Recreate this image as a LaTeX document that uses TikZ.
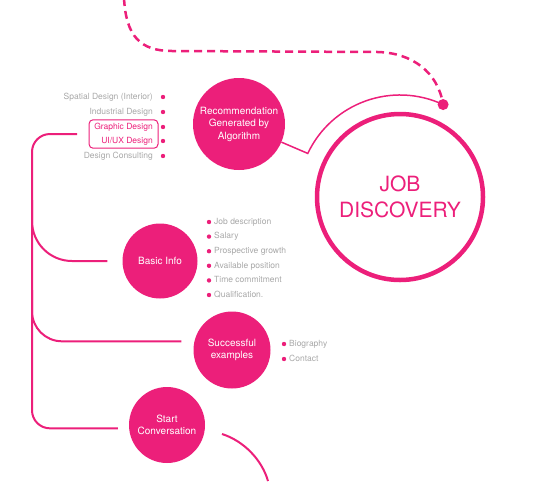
\documentclass[tikz,border=0pt]{standalone}
\usepackage{fontspec}
\setsansfont{TeX Gyre Heros}
\usetikzlibrary{calc,fit}
\begin{document}
\begin{tikzpicture}[x=1pt,y=-1pt,font=\sffamily,
  bubble/.style={circle,fill=discoverypink,text=white,align=center,inner sep=0pt,
    minimum size=#1,font=\sffamily\fontsize{10}{12.5}\selectfont},
  leftitem/.style={anchor=east,inner sep=0pt,text=itemgray,text height=6.2pt,text depth=1.8pt,
    font=\sffamily\fontsize{8.5}{10}\selectfont},
  rightitem/.style={leftitem,anchor=west},
  spine/.style={discoverypink,line width=2pt},
  thinlink/.style={discoverypink,line width=1.5pt}]
\definecolor{discoverypink}{HTML}{EC1F7A}
\definecolor{itemgray}{HTML}{A8A8A8}
\useasboundingbox (0,0) rectangle (540,485);
% hub and bubbles
\node[circle,draw=discoverypink,line width=4.5pt,minimum size=166pt,text=discoverypink,align=center,
  font=\sffamily\fontsize{21}{26}\selectfont] (job) at (400,197) {JOB\\DISCOVERY};
\node[bubble=92pt] (recommend) at (239,124) {Recommendation\\Generated by\\Algorithm};
\node[bubble=75pt] (basic) at (160,261) {Basic Info};
\node[bubble=77pt] (success) at (232,350) {Successful\\examples};
\node[bubble=76pt] (start) at (167,425) {Start\\Conversation};
% orbit from the recommendation bubble
\coordinate (arcstart) at ($(job.center)+(205.3:102)$);
\draw[thinlink] (recommend) -- (arcstart) arc[start angle=205.3,end angle=295,radius=102] coordinate (arcend);
\coordinate (trailtop) at (124,-2);
\draw[discoverypink,line width=2.5pt,dash pattern=on 8pt off 5pt] (trailtop)
  .. controls (126,36) and (140,51) .. (172,51) -- (378,52)
  .. controls (412,53) and (438,72) .. (arcend);
\fill[discoverypink] (arcend) circle (5.5);
% fields
\node[leftitem] (spatial) at (153,97) {Spatial Design (Interior)};
\node[leftitem] (industrial) at (153,112) {Industrial Design};
\node[leftitem,text=discoverypink] (graphic) at (153,127) {Graphic Design};
\node[leftitem,text=discoverypink] (uiux) at (153,141) {UI/UX Design};
\node[leftitem] (consulting) at (153,156) {Design Consulting};
\fill[discoverypink] (163,97) circle (2.2);
\fill[discoverypink] (163,112) circle (2.2);
\fill[discoverypink] (163,127) circle (2.2);
\fill[discoverypink] (163,141) circle (2.2);
\fill[discoverypink] (163,156) circle (2.2);
\node[fit=(graphic)(uiux),draw=discoverypink,rounded corners=4pt,inner xsep=5pt,inner ysep=3pt,line width=1pt] (picked) {};
% spine and branches
\coordinate (brackettop) at (77,134);
\draw[spine,rounded corners=18pt,shorten >=11pt] (brackettop) -- (32,134) |- (start.185);
\draw[spine,rounded corners=40pt,shorten >=15pt] (32,200) |- (basic.west);
\draw[spine,rounded corners=30pt,shorten >=13pt] (32,290) |- (success.167);
\coordinate (tailstart) at (222,434);
\coordinate (tailend) at (268,481);
\draw[spine] (tailstart) .. controls (244,441) and (262,460) .. (tailend);
% basic info items
\node[rightitem] (jobdesc) at (214,222) {Job description};
\node[rightitem] (salary) at (214,236.6) {Salary};
\node[rightitem] (growth) at (214,251.2) {Prospective growth};
\node[rightitem] (position) at (214,265.8) {Available position};
\node[rightitem] (commitment) at (214,280.4) {Time commitment};
\node[rightitem] (qualification) at (214,295) {Qualification.};
\fill[discoverypink] (209,222) circle (2.2);
\fill[discoverypink] (209,236.6) circle (2.2);
\fill[discoverypink] (209,251.2) circle (2.2);
\fill[discoverypink] (209,265.8) circle (2.2);
\fill[discoverypink] (209,280.4) circle (2.2);
\fill[discoverypink] (209,295) circle (2.2);
% example items
\node[rightitem] (biography) at (289,344) {Biography};
\node[rightitem] (contact) at (289,359) {Contact};
\fill[discoverypink] (284,344) circle (2.2);
\fill[discoverypink] (284,359) circle (2.2);
\end{tikzpicture}
\end{document}
